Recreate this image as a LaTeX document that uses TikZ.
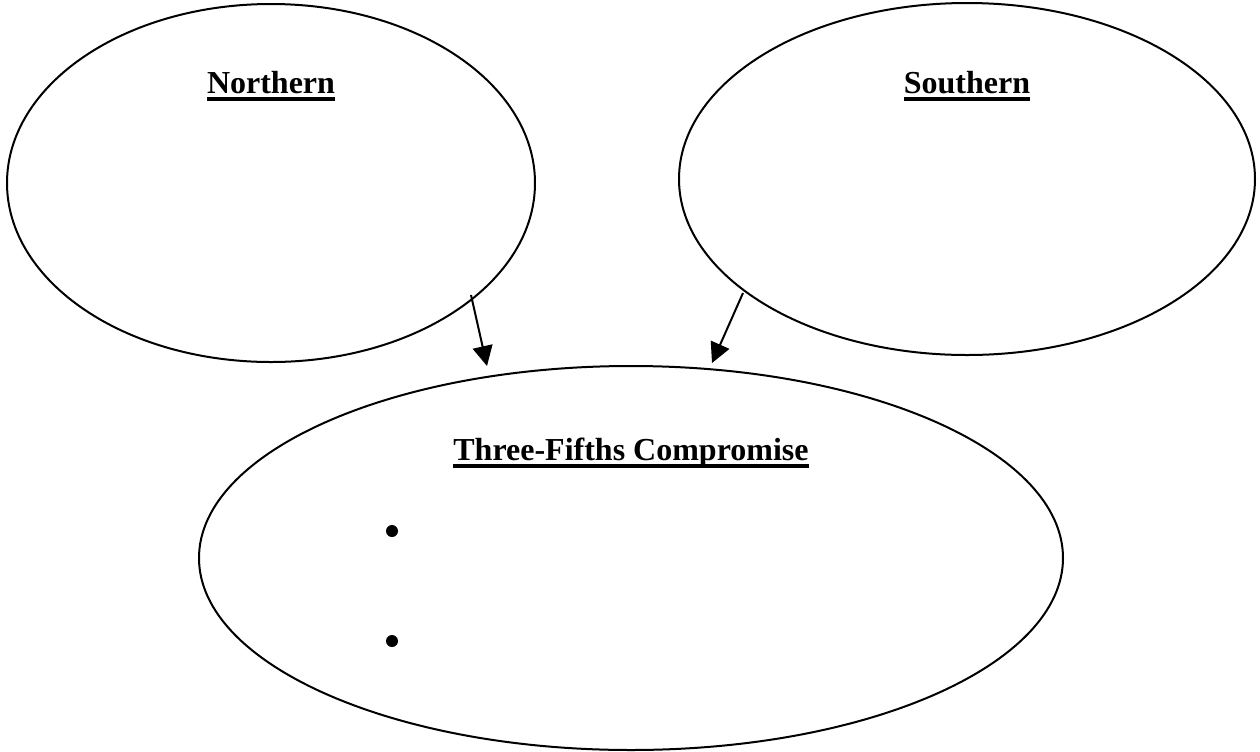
\documentclass[tikz,border=0pt]{standalone}
\usepackage{fontspec}
\setmainfont{Liberation Serif}
\usetikzlibrary{shapes.geometric,arrows.meta}
% bold heading with a thick underline set at a fixed depth
\newcommand\headline[1]{\leavevmode\setbox0\hbox{#1}\rlap{\vrule height -1.8pt depth 3.8pt width \wd0}\box0}
\begin{document}
\begin{tikzpicture}[x=0.5pt,y=-0.5pt,
  bubble/.style={draw,line width=1pt,ellipse,inner sep=0pt},
  heading/.style={anchor=base,inner sep=0pt,font=\fontsize{16}{19}\selectfont\bfseries},
  bulletmark/.style={circle,fill,inner sep=0pt,minimum size=6pt},
  link/.style={line width=1pt,-{Triangle[length=10pt,width=10pt]}}]
\useasboundingbox (0,0) rectangle (1260,751);
% the three ellipses
\node[bubble,minimum width=264pt,minimum height=179pt] (north) at (271,183) {};
\node[bubble,minimum width=288pt,minimum height=176pt] (south) at (967,179) {};
\node[bubble,minimum width=432pt,minimum height=192pt] (comp) at (631,558) {};
% headings
\node[heading] (northtitle) at (271,93) {\headline{Northern}};
\node[heading] (southtitle) at (967,93) {\headline{Southern}};
\node[heading] (comptitle) at (631,460) {\headline{Three-Fifths Compromise}};
% bullet points
\node[bulletmark] (b1) at (392,531) {};
\node[bulletmark] (b2) at (392,641) {};
% arrows into the compromise
\coordinate (nfrom) at (471,295);
\coordinate (nto) at (487,366);
\coordinate (sfrom) at (743,293);
\coordinate (sto) at (712,363);
\draw[link] (nfrom) -- (nto);
\draw[link] (sfrom) -- (sto);
\end{tikzpicture}
\end{document}
